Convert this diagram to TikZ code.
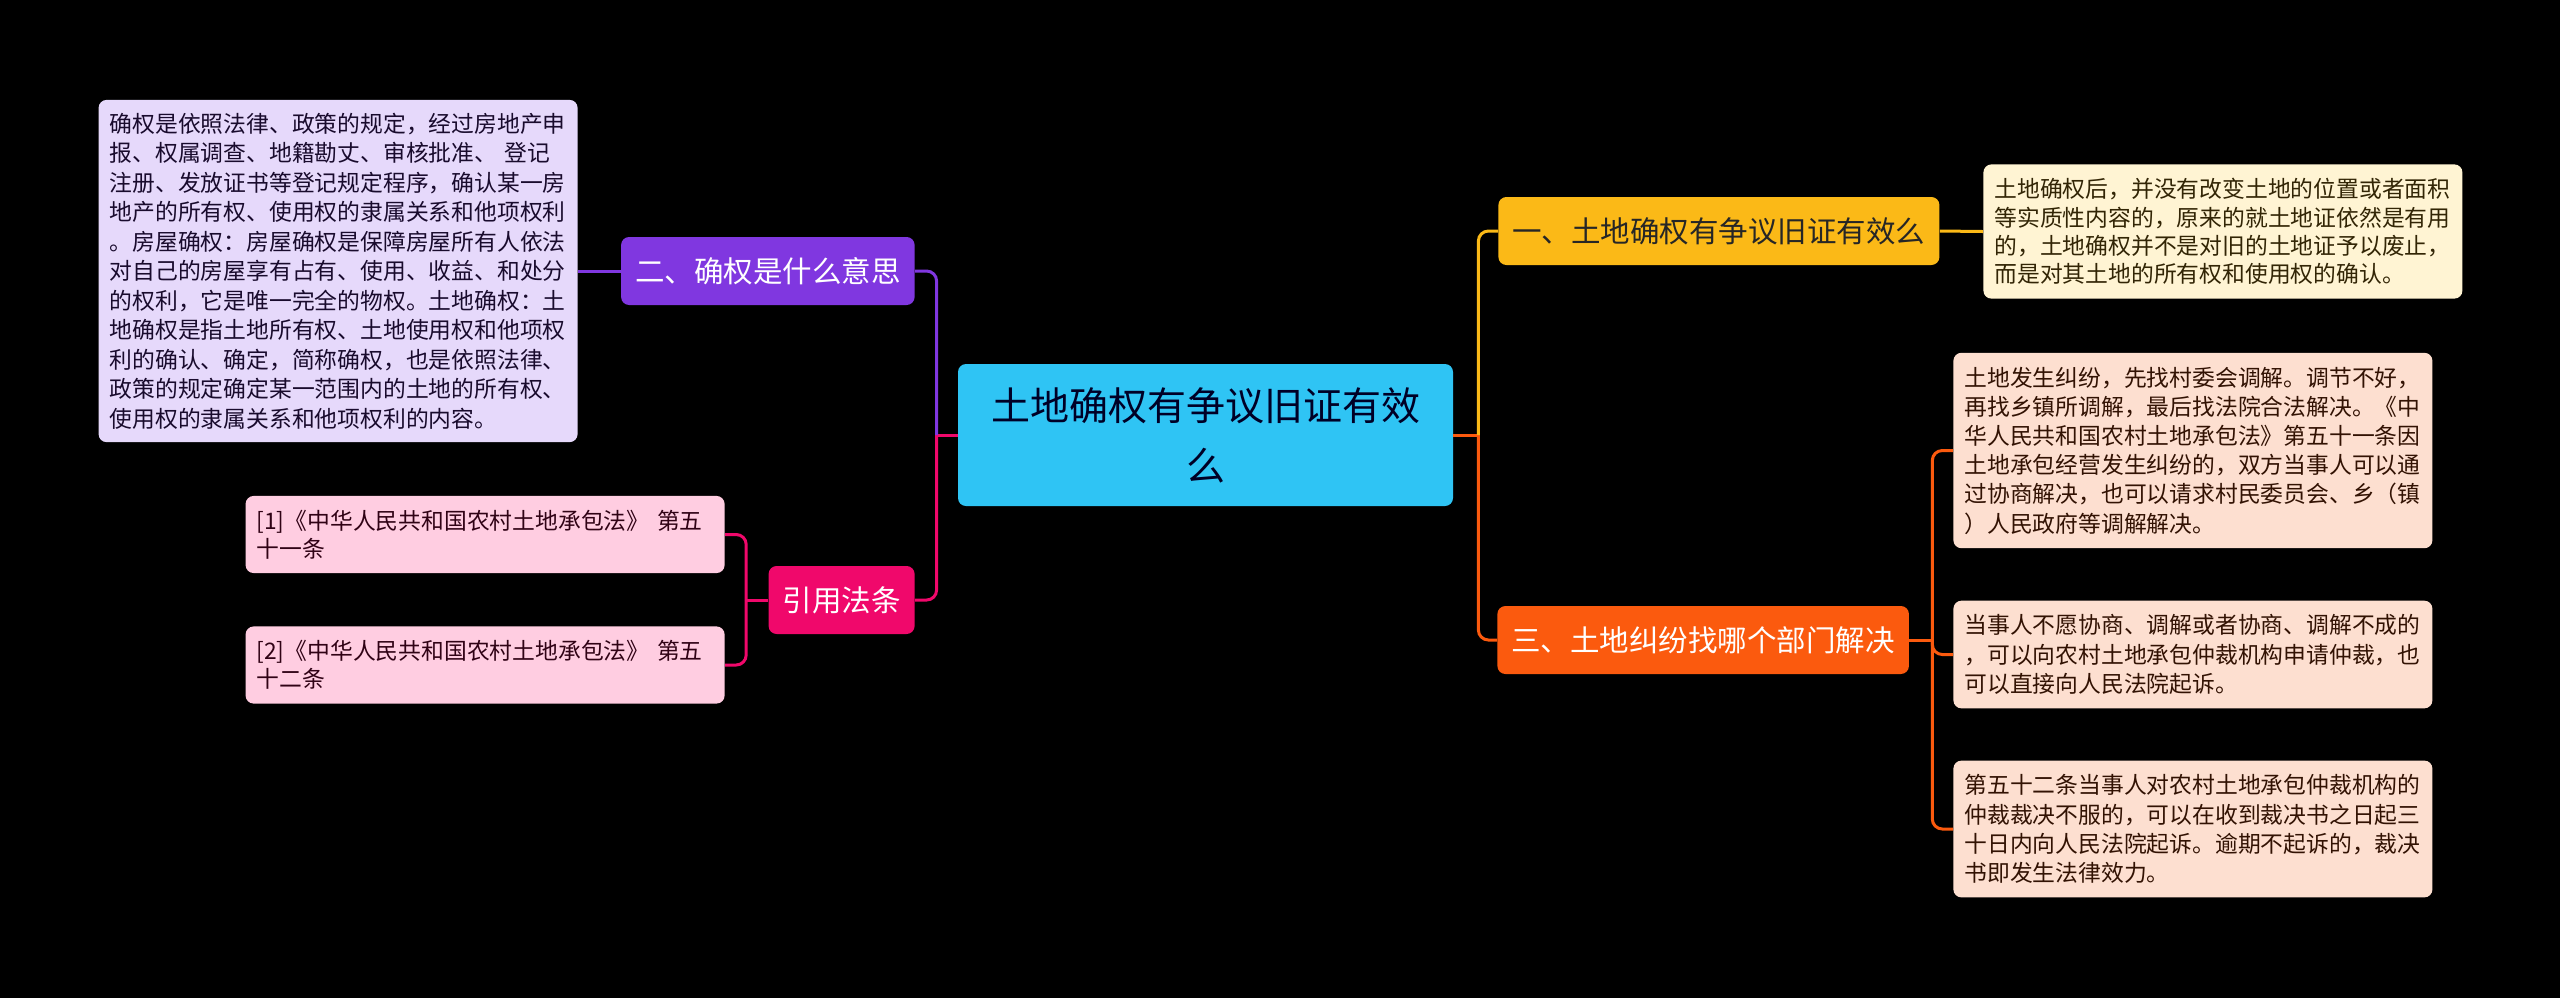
\documentclass[tikz,border=0pt]{standalone}
\usepackage{fontspec}
\newfontfamily\cjkfont{Noto Sans CJK SC}
\usepackage{tikz}
\usetikzlibrary{calc}

\definecolor{rootblue}{HTML}{2FC4F4}
\definecolor{defpurple}{HTML}{8037E0}
\definecolor{deflight}{HTML}{E6D9FB}
\definecolor{citepink}{HTML}{F0086B}
\definecolor{citelight}{HTML}{FFCDE1}
\definecolor{ansyellow}{HTML}{FBB917}
\definecolor{anslight}{HTML}{FFF4D3}
\definecolor{disorange}{HTML}{FB5A0E}
\definecolor{dislight}{HTML}{FDDFD0}

\begin{document}
\begin{tikzpicture}[x=0.5pt,y=-0.5pt,
                    note box/.style={rounded corners=4pt,align=left,text width=228.5pt,inner xsep=5.5pt,inner ysep=7pt,
                                     font=\cjkfont\fontsize{11.4pt}{14.6pt}\selectfont},
                    topic node/.style={rounded corners=4pt,minimum height=34pt,inner xsep=7pt,inner ysep=0pt,
                                       font=\cjkfont\fontsize{14.75pt}{18pt}\selectfont},
                    branch line/.style={line width=1.5pt,rounded corners=5pt}]

\useasboundingbox (0,0) rectangle (2560,998);
\fill [black] (0,0) rectangle (2560,998);

\node [rounded corners=4pt,fill=rootblue,text=black!85!blue,align=center,text width=216pt,minimum width=247.5pt,minimum height=71pt,
       inner xsep=0pt,font=\cjkfont\fontsize{19.5pt}{30pt}\selectfont] (root) at (1205.5,435) {土地确权有争议旧证有效\\么};

% left side
\node [topic node,fill=defpurple,text=white,anchor=east] (what) at (915,271) {二、确权是什么意思};
\node [topic node,fill=citepink,text=white,anchor=east] (cite) at (915,600) {引用法条};

\node [note box,fill=deflight,text=black!80!defpurple,anchor=east,inner ysep=6.5pt,font=\cjkfont\fontsize{11.4pt}{14.75pt}\selectfont] (meaning) at (578,271)
{确权是依照法律、政策的规定，经过房地产申\\
报、权属调查、地籍勘丈、审核批准、 登记\\
注册、发放证书等登记规定程序，确认某一房\\
地产的所有权、使用权的隶属关系和他项权利\\
。房屋确权：房屋确权是保障房屋所有人依法\\
对自己的房屋享有占有、使用、收益、和处分\\
的权利，它是唯一完全的物权。土地确权：土\\
地确权是指土地所有权、土地使用权和他项权\\
利的确认、确定，简称确权，也是依照法律、\\
政策的规定确定某一范围内的土地的所有权、\\
使用权的隶属关系和他项权利的内容。};

\node [note box,fill=citelight,text=black!80!citepink,anchor=east,font=\cjkfont\fontsize{11.4pt}{14pt}\selectfont] (law1) at (725,534.5)
{[1]《中华人民共和国农村土地承包法》 第五\\十一条};
\node [note box,fill=citelight,text=black!80!citepink,anchor=east,font=\cjkfont\fontsize{11.4pt}{14pt}\selectfont] (law2) at (725,665)
{[2]《中华人民共和国农村土地承包法》 第五\\十二条};

% right side
\node [topic node,fill=ansyellow,text=black!85,anchor=west] (valid) at (1498,231) {一、土地确权有争议旧证有效么};
\node [topic node,fill=disorange,text=white,anchor=west] (dept) at (1497,640) {三、土地纠纷找哪个部门解决};

\node [note box,fill=anslight,text=black!80!ansyellow,anchor=west,font=\cjkfont\fontsize{11.4pt}{14.15pt}\selectfont] (oldcert) at (1983,231.5)
{土地确权后，并没有改变土地的位置或者面积\\
等实质性内容的，原来的就土地证依然是有用\\
的，土地确权并不是对旧的土地证予以废止，\\
而是对其土地的所有权和使用权的确认。};

\node [note box,fill=dislight,text=black!80!disorange,anchor=west] (mediate) at (1953,450.5)
{土地发生纠纷，先找村委会调解。调节不好，\\
再找乡镇所调解，最后找法院合法解决。《中\\
华人民共和国农村土地承包法》第五十一条因\\
土地承包经营发生纠纷的，双方当事人可以通\\
过协商解决，也可以请求村民委员会、乡（镇\\
）人民政府等调解解决。};
\node [note box,fill=dislight,text=black!80!disorange,anchor=west] (arbit) at (1953,654.5)
{当事人不愿协商、调解或者协商、调解不成的\\
，可以向农村土地承包仲裁机构申请仲裁，也\\
可以直接向人民法院起诉。};
\node [note box,fill=dislight,text=black!80!disorange,anchor=west] (sue) at (1953,829)
{第五十二条当事人对农村土地承包仲裁机构的\\
仲裁裁决不服的，可以在收到裁决书之日起三\\
十日内向人民法院起诉。逾期不起诉的，裁决\\
书即发生法律效力。};

% connectors
\coordinate (lj) at ([xshift=-10.5pt]root.west);
\coordinate (cj) at ([xshift=-11pt]cite.west);
\coordinate (rj) at ([xshift=12.5pt]root.east);
\coordinate (dj) at ([xshift=11.5pt]dept.east);

\draw [branch line,citepink] (root.west) -- (lj);
\draw [branch line,citepink] (lj) |- (cite.east);
\draw [branch line,defpurple] (lj) |- (what.east);
\draw [branch line,defpurple] (what.west) -- (meaning.east);
\draw [branch line,citepink] (cite.west) -- (cj);
\draw [branch line,citepink] (cj) |- (law1.east);
\draw [branch line,citepink] (cj) |- (law2.east);

\draw [branch line,disorange] (root.east) -- (rj);
\draw [branch line,disorange] (rj) |- (dept.west);
\draw [branch line,ansyellow] (rj) |- (valid.west);
\draw [branch line,ansyellow] (valid.east) -- (oldcert.west);
\draw [branch line,disorange] (dept.east) -- (dj);
\draw [branch line,disorange] (dj) |- (mediate.west);
\draw [branch line,disorange] (dj) |- (arbit.west);
\draw [branch line,disorange] (dj) |- (sue.west);

\end{tikzpicture}
\end{document}
